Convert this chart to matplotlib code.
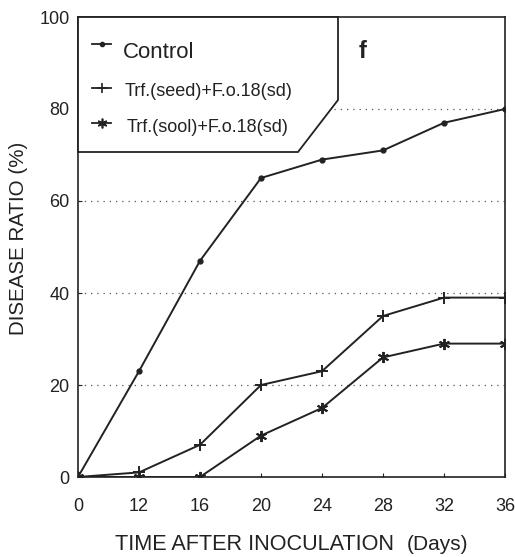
import matplotlib
matplotlib.use("Agg")
import matplotlib.pyplot as plt
from matplotlib.patches import Polygon

plt.rcParams['font.family'] = ['Liberation Sans', 'DejaVu Sans']

days = ["0", "12", "16", "20", "24", "28", "32", "36"]
control = [0, 23, 47, 65, 69, 71, 77, 80]
trf_seed = [0, 1, 7, 20, 23, 35, 39, 39]
trf_soil = [0, 0, 0, 9, 15, 26, 29, 29]
labels = ["Control", "Trf.(seed)+F.o.18(sd)", "Trf.(sool)+F.o.18(sd)"]

W, H = 515, 557
fig = plt.figure(figsize=(W / 100, H / 100), dpi=100)
AL, AR, AT, AB = 78, 505, 17, 477
ax = fig.add_axes([AL / W, 1 - AB / H, (AR - AL) / W, (AB - AT) / H])
x = list(range(len(days)))
ink = '#222222'

def axc(px, py):
    return (px - AL) / (AR - AL), (AB - py) / (AB - AT)

# dotted grid
for yv in [20, 40, 60]:
    ax.plot([0, 7], [yv, yv], linestyle=(0, (1, 4)), color='#555555', lw=0.9, zorder=1)
ax.plot([4.2, 7], [80, 80], linestyle=(0, (1, 4)), color='#555555', lw=0.9, zorder=1)

ax.plot(x, control, color=ink, lw=1.4, marker='o', ms=3.5, zorder=3)
ax.plot(x, trf_seed, color=ink, lw=1.4, marker='+', ms=8, mew=1.4, zorder=3)
ax.plot(x, trf_soil, color=ink, lw=1.4, marker=(6, 2, 0), ms=8, mew=1.4, zorder=3)

ax.set_xlim(0, 7)
ax.set_ylim(0, 100)
ax.set_xticks(x)
ax.set_xticklabels(days)
ax.set_yticks([0, 20, 40, 60, 80, 100])
ax.tick_params(axis='both', direction='in', length=3, labelsize=13, colors=ink)
ax.tick_params(axis='x', pad=15)
ax.tick_params(axis='y', pad=6)
for s in ax.spines.values():
    s.set_linewidth(1.2)
    s.set_color(ink)

# legend box with chamfered corner
pts = [axc(AL, AT), axc(338, AT), axc(338, 100), axc(298, 152), axc(AL, 152)]
poly = Polygon(pts, closed=True, facecolor='white', edgecolor=ink, lw=1.3,
               zorder=4, transform=ax.transAxes, clip_on=False)
ax.add_patch(poly)

# legend entries (drawn manually)
entries = [
    (labels[0], dict(marker='o', ms=3), 44, 52, 123, 16),
    (labels[1], dict(marker='+', ms=7, mew=1.2), 88, 92, 125, 13),
    (labels[2], dict(marker=(6, 2, 0), ms=7, mew=1.2), 123, 128, 127, 13),
]
for lab, mk, hy, ty, tx, fs in entries:
    x0, y0 = axc(92, hy)
    x1, _ = axc(111, hy)
    ax.plot([x0, x1], [y0, y0], color=ink, lw=1.3, transform=ax.transAxes, zorder=5, clip_on=False)
    ax.plot([(x0 + x1) / 2], [y0], color=ink, transform=ax.transAxes, zorder=5, clip_on=False, **mk)
    tx_, ty_ = axc(tx, ty)
    ax.text(tx_, ty_, lab, fontsize=fs, ha='left', va='center', color=ink,
            transform=ax.transAxes, zorder=5)

fx, fy = axc(363, 52)
ax.text(fx, fy, 'f', fontsize=17, fontweight='bold', ha='center', va='center',
        transform=ax.transAxes, zorder=5, color=ink)

yl_x, yl_y = 19 / W, 1 - 238 / H
fig.text(yl_x, yl_y, 'DISEASE RATIO (%)', fontsize=14.8, rotation=90, ha='center', va='center', color=ink)
fig.text(115 / W, 1 - 550 / H, 'TIME AFTER INOCULATION', fontsize=15.6, ha='left', va='baseline', color=ink)
fig.text(407 / W, 1 - 550 / H, '(Days)', fontsize=15, ha='left', va='baseline', color=ink)

fig.savefig('out.png', dpi=100)
